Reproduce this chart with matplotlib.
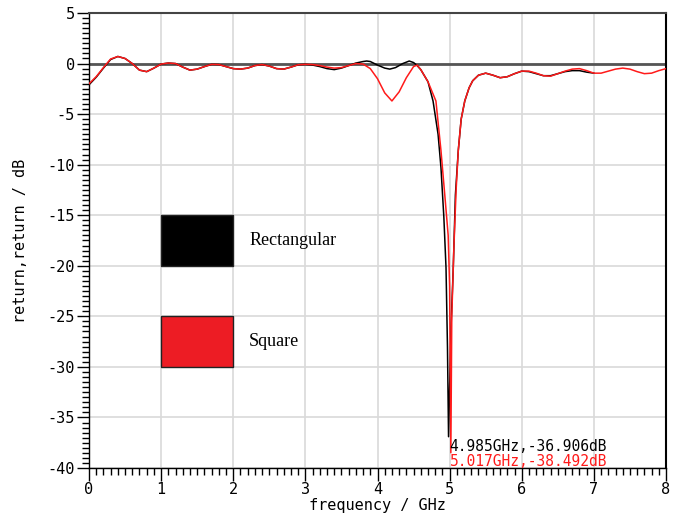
import matplotlib
matplotlib.use("Agg")
import matplotlib.pyplot as plt
from matplotlib.ticker import MultipleLocator
from matplotlib.patches import Rectangle

plt.rcParams["axes.unicode_minus"] = False

# Square (red) trace
sq_f = [0.0, 0.1, 0.2, 0.3, 0.4, 0.5, 0.6, 0.7, 0.8, 0.9, 1.0, 1.1, 1.2, 1.3, 1.4,
        1.5, 1.6, 1.7, 1.8, 1.9, 2.0, 2.1, 2.2, 2.3, 2.4, 2.5, 2.6, 2.7, 2.8, 2.9,
        3.0, 3.1, 3.2, 3.3, 3.4, 3.5, 3.6, 3.7, 3.8, 3.9, 4.0, 4.1, 4.2, 4.3, 4.4,
        4.5, 4.55, 4.6, 4.7, 4.81, 4.88, 4.94, 4.98, 5.0, 5.017, 5.03, 5.06, 5.09,
        5.12, 5.16, 5.21, 5.27, 5.32, 5.4, 5.5, 5.6, 5.7, 5.8, 5.9, 6.0, 6.1, 6.2,
        6.3, 6.4, 6.5, 6.6, 6.7, 6.8, 6.9, 7.0, 7.1, 7.2, 7.3, 7.4, 7.5, 7.6, 7.7,
        7.8, 7.9, 8.0]
sq_db = [-2.0, -1.3, -0.4, 0.45, 0.7, 0.5, 0.0, -0.65, -0.8, -0.45, -0.05, 0.05, 0.0,
         -0.35, -0.65, -0.55, -0.3, -0.08, -0.1, -0.3, -0.5, -0.55, -0.45, -0.2, -0.1,
         -0.25, -0.5, -0.55, -0.35, -0.12, -0.08, -0.1, -0.2, -0.35, -0.45, -0.4, -0.2,
         0.0, -0.05, -0.5, -1.5, -2.9, -3.7, -2.8, -1.4, -0.3, -0.15, -0.6, -1.8, -3.7,
         -8.6, -13.6, -17.0, -22.0, -38.492, -25.0, -18.0, -12.5, -8.6, -5.5, -3.7,
         -2.4, -1.7, -1.15, -0.95, -1.15, -1.4, -1.3, -1.0, -0.75, -0.75, -0.95, -1.2,
         -1.25, -1.0, -0.75, -0.55, -0.5, -0.7, -0.95, -0.95, -0.75, -0.55, -0.45,
         -0.55, -0.8, -1.0, -0.95, -0.7, -0.5]

# Rectangular (black) trace
re_f = [0.0, 0.1, 0.2, 0.3, 0.4, 0.5, 0.6, 0.7, 0.8, 0.9, 1.0, 1.1, 1.2, 1.3, 1.4,
        1.5, 1.6, 1.7, 1.8, 1.9, 2.0, 2.1, 2.2, 2.3, 2.4, 2.5, 2.6, 2.7, 2.8, 2.9,
        3.0, 3.1, 3.2, 3.3, 3.4, 3.5, 3.6, 3.7, 3.8, 3.85, 3.9, 4.0, 4.1, 4.17, 4.25,
        4.35, 4.44, 4.5, 4.55, 4.6, 4.7, 4.77, 4.84, 4.88, 4.92, 4.95, 4.97, 4.985,
        5.0, 5.02, 5.05, 5.08, 5.12, 5.16, 5.21, 5.27, 5.32, 5.4, 5.5, 5.6, 5.7, 5.8,
        5.9, 6.0, 6.1, 6.2, 6.3, 6.4, 6.5, 6.6, 6.7, 6.8, 6.9, 7.0]
re_db = [-2.1, -1.35, -0.45, 0.4, 0.7, 0.5, 0.0, -0.65, -0.8, -0.45, -0.05, 0.05, 0.0,
         -0.35, -0.65, -0.55, -0.3, -0.08, -0.1, -0.3, -0.5, -0.55, -0.45, -0.2, -0.1,
         -0.25, -0.5, -0.55, -0.35, -0.12, -0.08, -0.15, -0.3, -0.5, -0.6, -0.45, -0.2,
         0.05, 0.2, 0.25, 0.2, -0.15, -0.45, -0.55, -0.4, 0.0, 0.25, 0.1, -0.2, -0.6,
         -1.8, -3.7, -7.0, -10.3, -15.2, -20.2, -28.0, -36.906, -32.0, -26.0, -20.3,
         -13.0, -8.6, -5.5, -3.7, -2.4, -1.7, -1.15, -0.95, -1.15, -1.4, -1.3, -1.0,
         -0.75, -0.8, -1.0, -1.2, -1.2, -1.0, -0.8, -0.7, -0.7, -0.85, -0.95]

legend_labels = ["Rectangular", "Square"]
legend_colors = ["#000000", "#ed1c24"]
marker_texts = ["4.985GHz,-36.906dB", "5.017GHz,-38.492dB"]

mono = "DejaVu Sans Mono"
fig = plt.figure(figsize=(6.8, 5.15), dpi=100)
ax = fig.add_axes([89 / 680, 1 - 468 / 515, (666 - 89) / 680, (468 - 13) / 515])

ax.set_xlim(0, 8)
ax.set_ylim(-40, 5)
ax.xaxis.set_major_locator(MultipleLocator(1))
ax.xaxis.set_minor_locator(MultipleLocator(0.1))
ax.yaxis.set_major_locator(MultipleLocator(5))
ax.yaxis.set_minor_locator(MultipleLocator(0.5))
ax.grid(True, which="major", color="#d9d9d9", linewidth=1.2)
ax.set_axisbelow(True)
ax.tick_params(which="major", direction="out", length=9, width=1, color="black",
               labelsize=11, pad=1)
ax.tick_params(which="minor", direction="out", length=5, width=1, color="black")
for lab in ax.get_xticklabels() + ax.get_yticklabels():
    lab.set_family(mono)

for s in ["left", "bottom"]:
    ax.spines[s].set_color("black")
    ax.spines[s].set_linewidth(1)
ax.spines["right"].set_color("black")
ax.spines["right"].set_linewidth(1.5)
ax.spines["top"].set_color("#444444")
ax.spines["top"].set_linewidth(1.5)

ax.axhline(0, color="#555555", linewidth=2, zorder=2)

ax.plot(re_f, re_db, color="black", linewidth=1.1, zorder=3)
ax.plot(sq_f, sq_db, color="#ff1a1a", linewidth=1.1, zorder=4)

# legend boxes drawn in data space
for i, (lab, col) in enumerate(zip(legend_labels, legend_colors)):
    ytop = -15 - 10 * i
    ax.add_patch(Rectangle((1.0, ytop - 5), 1.0, 5, facecolor=col,
                           edgecolor="#222222", linewidth=1, zorder=5))
    ax.text(2.22, ytop - 2.5, lab, family="Liberation Serif", fontsize=13,
            va="center", ha="left", zorder=5)

ax.text(4.99, -37.9, marker_texts[0], family=mono, fontsize=10.5, color="black",
        ha="left", va="center", zorder=6)
ax.text(5.01, -39.4, marker_texts[1], family=mono, fontsize=10.5, color="#ff1a1a",
        ha="left", va="center", zorder=6)

ax.set_xlabel("frequency / GHz", family=mono, fontsize=11, labelpad=1)
ax.set_ylabel("return,return / dB", family=mono, fontsize=11, labelpad=14)

fig.savefig("out.png", dpi=100)
